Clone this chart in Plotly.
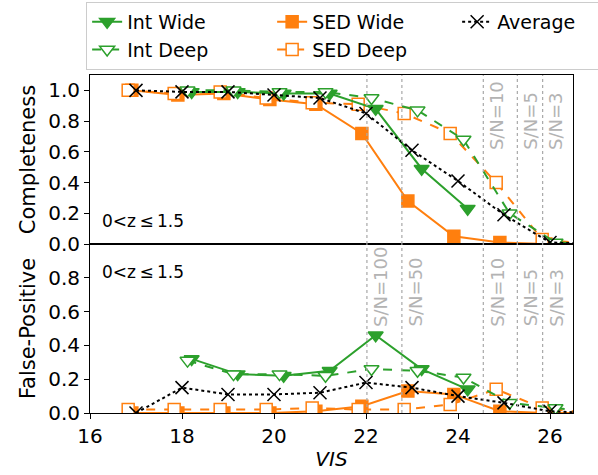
import plotly.graph_objects as go
from plotly.subplots import make_subplots

# ---- data ----
vis_avg = [17, 18, 19, 20, 21, 22, 23, 24, 25, 26, 27]
comp_avg = [1.00, 0.99, 0.99, 0.97, 0.95, 0.85, 0.61, 0.41, 0.19, 0.01, 0.0]
fp_avg = [0.00, 0.15, 0.11, 0.11, 0.12, 0.18, 0.15, 0.10, 0.06, 0.01, 0.0]

vis_int_wide = [18.21, 19.21, 20.21, 21.21, 22.21, 23.21, 24.21]
comp_int_wide = [0.99, 0.99, 0.98, 0.98, 0.88, 0.49, 0.23]
fp_int_wide = [0.32, 0.23, 0.22, 0.25, 0.46, 0.26, 0.14]

vis_int_deep = [18.12, 19.12, 20.12, 21.12, 22.12, 23.12, 24.12, 25.12, 26.12, 27.12]
comp_int_deep = [1.00, 1.00, 0.99, 0.99, 0.95, 0.87, 0.68, 0.20, 0.01, 0.0]
fp_int_deep = [0.31, 0.23, 0.23, 0.22, 0.26, 0.25, 0.21, 0.06, 0.03, 0.0]

vis_sed_wide = [16.91, 17.91, 18.91, 19.91, 20.91, 21.91, 22.91, 23.91, 24.91, 25.91, 26.91]
comp_sed_wide = [1.00, 0.97, 0.98, 0.94, 0.91, 0.72, 0.28, 0.05, 0.01, 0.0, 0.0]
fp_sed_wide = [0.0, 0.0, 0.0, 0.0, 0.01, 0.04, 0.13, 0.11, 0.01, 0.0, 0.0]

vis_sed_deep = [16.83, 17.83, 18.83, 19.83, 20.83, 21.83, 22.83, 23.83, 24.83, 25.83, 26.83]
comp_sed_deep = [1.00, 0.98, 0.99, 0.95, 0.92, 0.91, 0.85, 0.72, 0.40, 0.03, 0.0]
fp_sed_deep = [0.02, 0.02, 0.02, 0.02, 0.03, 0.02, 0.02, 0.05, 0.14, 0.03, 0.0]

sn_mag = [22.02, 22.78, 24.55, 25.29, 25.84]
sn_label = ['S/N=100', 'S/N=50', 'S/N=10', 'S/N=5', 'S/N=3']

green = '#2ca02c'
orange = '#ff7f0e'
grey_txt = '#b3b3b3'
FONT = 'DejaVu Sans'

fig = make_subplots(rows=2, cols=1, shared_xaxes=True, vertical_spacing=0)

# (name, x, comp, fp, color, dash, symbol, fill, rank)
series = [
    ('SED Wide', vis_sed_wide, comp_sed_wide, fp_sed_wide, orange, 'solid', 'square', orange, 2),
    ('SED Deep', vis_sed_deep, comp_sed_deep, fp_sed_deep, orange, 'dash', 'square', 'white', 5),
    ('Int Wide', vis_int_wide, comp_int_wide, fp_int_wide, green, 'solid', 'triangle-down', green, 1),
    ('Int Deep', vis_int_deep, comp_int_deep, fp_int_deep, green, 'dash', 'triangle-down', 'white', 4),
]

for name, xs, comp, fp, col, dash, sym, fill, rank in series:
    size = 12 if sym == 'square' else 13
    for row, ys in ((1, comp), (2, fp)):
        fig.add_trace(go.Scatter(
            x=xs, y=ys, name=name, mode='lines+markers',
            line=dict(color=col, width=2, dash=dash),
            marker=dict(symbol=sym, size=size, color=fill,
                        line=dict(color=col, width=1.5)),
            showlegend=(row == 1), legendrank=rank
        ), row=row, col=1)

for row, ys in ((1, comp_avg), (2, fp_avg)):
    fig.add_trace(go.Scatter(
        x=vis_avg, y=ys, name='Average', mode='lines+markers',
        line=dict(color='black', width=2, dash='dot'),
        marker=dict(symbol='x-thin-open', size=13, color='black',
                    line=dict(color='black', width=1.5)),
        showlegend=(row == 1), legendrank=3
    ), row=row, col=1)

# S/N reference lines
for i, (m, lab) in enumerate(zip(sn_mag, sn_label)):
    for yref in ('y domain', 'y2 domain'):
        fig.add_shape(type='line', xref='x', yref=yref, x0=m, x1=m, y0=0, y1=1,
                      line=dict(color='#a8a8a8', width=1.2, dash='dot'))
    # bottom panel: all labels
    fig.add_annotation(x=m, y=0.5, xref='x', yref='y2', text=lab, textangle=-90,
                       xanchor='left', yanchor='bottom', showarrow=False, xshift=1,
                       font=dict(family=FONT, size=18, color=grey_txt))
    if i >= 2:
        fig.add_annotation(x=m, y=0.6, xref='x', yref='y', text=lab, textangle=-90,
                           xanchor='left', yanchor='bottom', showarrow=False, xshift=1,
                           font=dict(family=FONT, size=18, color=grey_txt))

# redshift labels
fig.add_annotation(x=0.02, y=0.135, xref='x domain', yref='y domain',
                   text='0&lt;z\u2009\u2264\u20091.5', showarrow=False,
                   xanchor='left', yanchor='middle',
                   font=dict(family=FONT, size=17, color='black'))
fig.add_annotation(x=0.02, y=0.835, xref='x domain', yref='y2 domain',
                   text='0&lt;z\u2009\u2264\u20091.5', showarrow=False,
                   xanchor='left', yanchor='middle',
                   font=dict(family=FONT, size=17, color='black'))

axis_common = dict(showline=True, mirror=True, linecolor='black', linewidth=1,
                   showgrid=False, zeroline=False, ticks='outside', ticklen=5,
                   tickcolor='black', automargin=False,
                   tickfont=dict(family=FONT, size=20, color='black'))

fig.update_xaxes(range=[16, 26.5], **axis_common)
fig.update_xaxes(showticklabels=False, ticks='', row=1, col=1)
fig.update_xaxes(tickvals=[16, 18, 20, 22, 24, 26],
                 title=dict(text='<i>VIS</i>', font=dict(family=FONT, size=20, color='black'),
                            standoff=4),
                 row=2, col=1)
fig.update_yaxes(**axis_common)
fig.update_yaxes(range=[0, 1.1], tickvals=[0, 0.2, 0.4, 0.6, 0.8, 1.0], tickformat='.1f',
                 title=dict(text='Completeness', font=dict(family=FONT, size=21, color='black'),
                            standoff=6),
                 row=1, col=1)
fig.update_yaxes(range=[0, 1.0], tickvals=[0, 0.2, 0.4, 0.6, 0.8], tickformat='.1f',
                 title=dict(text='False-Positive', font=dict(family=FONT, size=21, color='black'),
                            standoff=6),
                 row=2, col=1)

fig.update_layout(
    width=598, height=475,
    margin=dict(l=90, r=25, t=75, b=62, autoexpand=False),
    paper_bgcolor='white', plot_bgcolor='white',
    font=dict(family=FONT, color='black'),
    legend=dict(orientation='h', x=-0.008, y=1.216, xanchor='left', yanchor='top',
                entrywidth=140, entrywidthmode='pixels', traceorder='normal',
                font=dict(family=FONT, size=19, color='black'),
                bordercolor='#cccccc', borderwidth=1, bgcolor='white'),
)

fig.write_html('out.html', config={'displayModeBar': False},
               post_script="document.body.style.margin='0';")
